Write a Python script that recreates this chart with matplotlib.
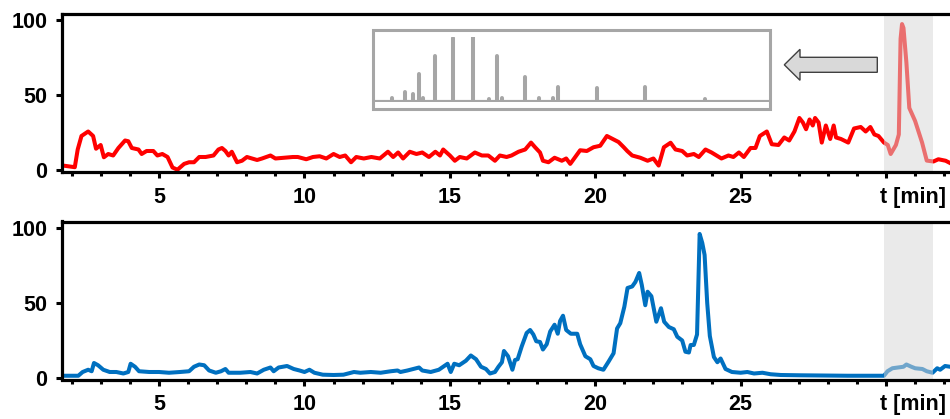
"""Two stacked chromatogram traces with an inset of the highlighted peak."""

import matplotlib
matplotlib.use("Agg")
import matplotlib.pyplot as plt
from matplotlib.patches import FancyArrow, Rectangle
from matplotlib.ticker import MultipleLocator

plt.rcParams["font.family"] = ["Liberation Sans", "DejaVu Sans"]
plt.rcParams["font.weight"] = "bold"

# upper trace (red), time in min / relative intensity
t_red = [
    1.69, 2.10, 2.20, 2.33, 2.56, 2.73, 2.83, 2.99, 3.10, 3.25,
    3.42, 3.60, 3.83, 3.94, 4.06, 4.29, 4.40, 4.57, 4.80, 4.94,
    5.11, 5.29, 5.46, 5.63, 5.86, 6.03, 6.20, 6.38, 6.60, 6.87,
    7.04, 7.16, 7.28, 7.39, 7.50, 7.68, 7.85, 8.02, 8.20, 8.37,
    8.54, 8.83, 9.00, 9.29, 9.60, 9.77, 10.06, 10.29, 10.52, 10.75,
    11.00, 11.21, 11.40, 11.60, 11.78, 12.04, 12.30, 12.59, 12.87, 13.05,
    13.22, 13.39, 13.62, 13.85, 14.05, 14.28, 14.50, 14.66, 14.77, 15.00,
    15.17, 15.34, 15.58, 15.86, 16.10, 16.32, 16.55, 16.72, 16.95, 17.12,
    17.36, 17.59, 17.79, 17.93, 18.10, 18.20, 18.39, 18.60, 18.85, 19.00,
    19.14, 19.31, 19.48, 19.71, 19.94, 20.17, 20.40, 20.60, 20.80, 20.98,
    21.10, 21.27, 21.55, 21.80, 22.00, 22.18, 22.36, 22.59, 22.76, 22.99,
    23.16, 23.39, 23.56, 23.79, 24.00, 24.17, 24.34, 24.58, 24.75, 24.94,
    25.11, 25.34, 25.51, 25.66, 25.90, 26.07, 26.30, 26.50, 26.67, 26.85,
    27.02, 27.14, 27.25, 27.37, 27.48, 27.56, 27.68, 27.79, 27.93, 28.08,
    28.20, 28.28, 28.45, 28.70, 28.90, 29.13, 29.30, 29.46, 29.60, 29.74,
    29.93, 30.06, 30.16, 30.34, 30.44, 30.50, 30.55, 30.60, 30.70, 30.80,
    31.00, 31.24, 31.40, 31.63, 31.80, 32.05, 32.20,
]
i_red = [
    3.3, 2.2, 14, 23, 26, 23, 14.5, 17, 8.8, 11,
    10, 15, 20, 19.5, 15, 14, 11, 13, 13, 10,
    11, 9, 2, 0.5, 4.4, 5.5, 5.5, 9, 9, 10,
    14, 15, 13, 10, 12.5, 5.5, 6.5, 9, 8, 7,
    8, 10, 8, 8.5, 9, 9, 7.5, 9, 9.5, 8,
    11, 9, 10, 5.5, 9, 8, 9, 8, 12.5, 9,
    12, 8, 12.5, 11, 12, 9, 12.5, 10, 14, 10,
    6.5, 9, 8, 12, 10, 10, 6.5, 10, 9, 10,
    12.5, 14, 18.6, 15.5, 12, 6.5, 5.5, 8.5, 6.5, 8,
    4.4, 9, 13.5, 13, 15.5, 16.5, 23, 21, 19, 15.5,
    13, 10, 8.5, 6.5, 8, 3.3, 15.5, 18.5, 14, 13,
    10, 11, 9, 14, 12, 10, 8, 10, 9, 12,
    9, 15, 15, 23, 26, 17.5, 17, 22, 20, 26,
    35, 32, 27.5, 34, 30, 35, 32, 18.6, 30, 21,
    30, 22, 21, 18.6, 28, 29, 26, 29, 24, 23,
    18.6, 17, 11, 17, 24, 87.7, 97.6, 95, 72, 41.7,
    33, 18.6, 6.6, 6, 7.5, 6.5, 5,
]

# lower trace (blue)
t_blue = [
    1.70, 2.22, 2.37, 2.56, 2.68, 2.76, 2.90, 3.08, 3.30, 3.53,
    3.77, 3.94, 4.02, 4.17, 4.31, 4.66, 5.00, 5.34, 5.72, 6.03,
    6.20, 6.38, 6.55, 6.72, 6.95, 7.13, 7.28, 7.39, 7.79, 8.14,
    8.37, 8.60, 8.83, 8.94, 9.11, 9.40, 9.63, 9.83, 10.00, 10.17,
    10.34, 10.63, 11.00, 11.34, 11.70, 11.92, 12.28, 12.62, 12.97, 13.20,
    13.30, 13.54, 13.94, 14.05, 14.34, 14.62, 14.92, 15.03, 15.15, 15.32,
    15.55, 15.72, 15.90, 16.07, 16.24, 16.38, 16.55, 16.67, 16.79, 16.86,
    17.00, 17.15, 17.24, 17.33, 17.47, 17.64, 17.76, 17.87, 17.97, 18.10,
    18.20, 18.33, 18.45, 18.60, 18.71, 18.79, 18.89, 19.00, 19.16, 19.38,
    19.48, 19.66, 19.83, 19.94, 20.10, 20.28, 20.46, 20.63, 20.75, 20.86,
    21.00, 21.11, 21.27, 21.38, 21.51, 21.60, 21.72, 21.80, 21.93, 22.10,
    22.26, 22.37, 22.53, 22.70, 22.82, 22.99, 23.10, 23.22, 23.28, 23.39,
    23.50, 23.59, 23.68, 23.76, 23.85, 23.94, 24.08, 24.20, 24.31, 24.48,
    24.70, 25.00, 25.23, 25.46, 25.75, 26.03, 26.38, 27.07, 28.68, 29.93,
    30.05, 30.22, 30.40, 30.60, 30.70, 30.87, 31.00, 31.25, 31.40, 31.60,
    31.76, 31.86, 32.03, 32.20,
]
i_blue = [
    1.5, 1.5, 4, 5.5, 4.5, 10, 8.5, 5.5, 4, 4,
    3, 4, 9.5, 7.5, 4.5, 4, 4, 3.5, 4, 4.5,
    7.5, 9, 8.5, 5, 3.5, 4.5, 6, 3.5, 3.5, 4,
    3, 5.5, 7, 4.5, 7, 8, 6, 5, 4, 5.5,
    3.5, 2.2, 2, 2.2, 4, 3.5, 4, 3.5, 4.5, 5,
    4, 5, 7, 5, 4, 5.5, 9.5, 4, 9.5, 8.5,
    11.5, 15, 12.5, 7.5, 6, 3, 4, 7.5, 10.5, 18,
    14.5, 5.5, 12, 12.5, 21, 30, 32, 29, 24.5, 24,
    19, 22.5, 31, 35.5, 29.5, 38, 41.5, 32, 29.5, 29.5,
    22.5, 14.5, 12.5, 8, 6.5, 5.5, 11, 16.5, 33, 36.5,
    47.5, 60, 61, 64, 70, 62, 48.5, 57.5, 54.5, 37.5,
    46.5, 37.5, 34, 32.5, 27.5, 25, 17.5, 17, 22, 22,
    29, 96, 90, 82, 50, 28, 14, 10.5, 13, 6,
    4, 3.5, 4, 3, 3.5, 2.5, 2, 1.8, 1.5, 1.5,
    4.5, 6.5, 7, 7.5, 9, 7.5, 6.5, 6, 4.5, 3.5,
    6.5, 5.5, 8, 7.5,
]

# inset spectrum of the highlighted peak (relative position / height in %)
spike_pos = [5.0, 8.2, 10.4, 11.7, 12.9, 15.7, 20.2, 25.4, 29.2,
             31.2, 32.5, 38.3, 41.9, 45.2, 46.5, 56.4, 68.3, 83.3]
spike_height = [6, 16, 12, 43, 7, 70, 98, 100, 5,
                71, 7, 38, 6, 7, 24, 22, 24, 5]

x_ticks = [5, 10, 15, 20, 25, 30]
x_ticklabels = ["5", "10", "15", "20", "25", ""]
y_ticks = [0, 50, 100]
band = (29.94, 31.6)

W, H = 950, 419
fig = plt.figure(figsize=(W / 100, H / 100), dpi=100)


def style_axes(ax):
    ax.set_xlim(1.66, 32.2)
    ax.set_ylim(-1.0, 104.3)
    ax.set_xticks(x_ticks)
    ax.set_xticklabels(x_ticklabels)
    ax.xaxis.set_minor_locator(MultipleLocator(1))
    ax.set_yticks(y_ticks)
    for s in ("left", "bottom", "top"):
        ax.spines[s].set_linewidth(2.3)
    ax.spines["right"].set_visible(False)
    ax.tick_params(axis="both", which="major", direction="out", length=4.5,
                   width=2.2, labelsize=15.5, pad=6)
    ax.tick_params(axis="x", which="minor", direction="out", length=2.6, width=2.2)
    for lab in ax.get_xticklabels() + ax.get_yticklabels():
        lab.set_fontweight("bold")
    ax.axvspan(*band, color="#d7d7d7", alpha=0.52, lw=0, zorder=2.2)
    ax.annotate("t [min]", xy=(29.8, 0), xycoords=ax.get_xaxis_transform(),
                xytext=(0, -10.5), textcoords="offset points",
                ha="left", va="top", fontsize=15.5, fontweight="bold")


ax_top = fig.add_axes([62 / W, 1 - 172 / H, 1 - 62 / W, 158 / H])
ax_top.plot(t_red, i_red, color="#ff0000", lw=2.9, solid_joinstyle="round")
style_axes(ax_top)

ax_bot = fig.add_axes([62 / W, 1 - 379.5 / H, 1 - 62 / W, 158 / H])
ax_bot.plot(t_blue, i_blue, color="#0070c0", lw=2.9, solid_joinstyle="round")
style_axes(ax_bot)

# inset: framed spectrum
gray = "#a6a6a6"
fig.add_artist(Rectangle((373.2 / W, 1 - 109.5 / H), 397 / W, 79.7 / H,
                         transform=fig.transFigure, fill=False,
                         edgecolor=gray, lw=2.2))
ax_in = fig.add_axes([371.7 / W, 1 - 102.3 / H, 400 / W, 65.6 / H])
ax_in.set_xlim(0, 100)
ax_in.set_ylim(0, 100)
ax_in.axis("off")
ax_in.axhline(0, xmin=0.01, xmax=0.993, color=gray, lw=3.0)
ax_in.vlines(spike_pos, 0, spike_height, color=gray, lw=2.9, capstyle="round")

# arrow pointing from the highlighted peak to the inset
fig.add_artist(FancyArrow(877.3 / 100, (H - 64.8) / 100, -93 / 100, 0,
                          width=0.15, head_width=0.31, head_length=0.157,
                          length_includes_head=True, transform=fig.dpi_scale_trans,
                          facecolor="#d9d9d9", edgecolor="#404040", lw=1.0))

fig.savefig("out.png", dpi=100)
